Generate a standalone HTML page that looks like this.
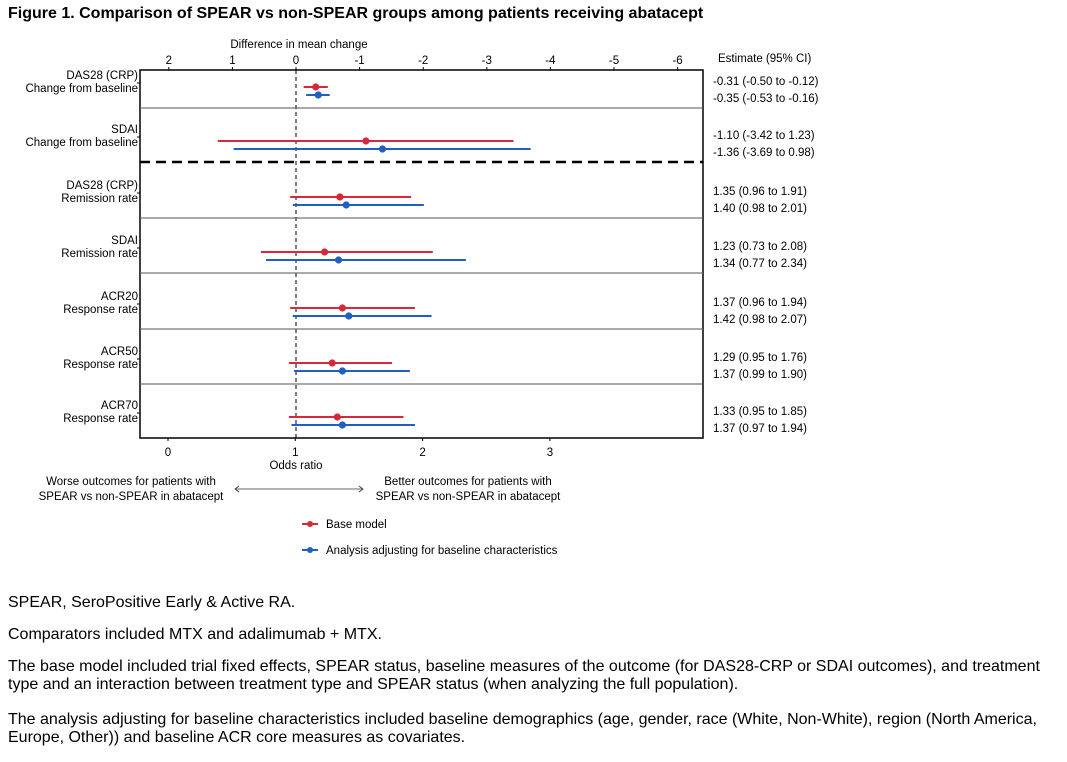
<!DOCTYPE html>
<html><head><meta charset="utf-8"><style>
body{margin:0;background:#fff;width:1067px;height:762px;overflow:hidden;font-family:"Liberation Sans",Arial,sans-serif;}
.t{font-family:"Liberation Sans",Arial,sans-serif;}
.note{position:absolute;left:8px;font-size:16px;color:#000;line-height:18px;width:1052px;}
</style></head><body>
<svg width="1067" height="580" style="position:absolute;left:0;top:0" id="chart">
<text x="8" y="18" font-size="16" font-weight="bold" class="t">Figure 1. Comparison of SPEAR vs non-SPEAR groups among patients receiving abatacept</text>
<text x="299" y="48" font-size="11.5" text-anchor="middle" class="t">Difference in mean change</text>
<text x="718" y="62" font-size="11.5" class="t">Estimate (95% CI)</text>
<text x="296" y="469" font-size="11.5" text-anchor="middle" class="t">Odds ratio</text>
<g font-size="11.5" class="t" text-anchor="middle">
<text x="131" y="485">Worse outcomes for patients with</text>
<text x="131" y="500">SPEAR vs non-SPEAR in abatacept</text>
<text x="468" y="485">Better outcomes for patients with</text>
<text x="468" y="500">SPEAR vs non-SPEAR in abatacept</text>
</g>
<g stroke="#333" stroke-width="0.8" fill="none">
<line x1="235" y1="489" x2="363" y2="489"/><path d="M239,486 L235,489 L239,492 M359,486 L363,489 L359,492"/>
</g>
<g font-size="11.5" class="t">
<g><line x1="302" y1="524" x2="318" y2="524" stroke="#d62839" stroke-width="2"/><circle cx="310" cy="524" r="3" fill="#d62839"/><text x="326" y="528">Base model</text></g>
<g><line x1="302" y1="550" x2="318" y2="550" stroke="#1f5fbf" stroke-width="2"/><circle cx="310" cy="550" r="3" fill="#1f5fbf"/><text x="326" y="554">Analysis adjusting for baseline characteristics</text></g>
</g>
<g id="plot"></g>
</svg>
<div class="note" style="top:594px">SPEAR, SeroPositive Early &amp; Active RA.</div>
<div class="note" style="top:626px">Comparators included MTX and adalimumab + MTX.</div>
<div class="note" style="top:658px">The base model included trial fixed effects, SPEAR status, baseline measures of the outcome (for DAS28-CRP or SDAI outcomes), and treatment type and an interaction between treatment type and SPEAR status (when analyzing the full population).</div>
<div class="note" style="top:711px">The analysis adjusting for baseline characteristics included baseline demographics (age, gender, race (White, Non-White), region (North America, Europe, Other)) and baseline ACR core measures as covariates.</div>
<script>
const rowLabels1 = ["DAS28 (CRP)","SDAI","DAS28 (CRP)","SDAI","ACR20","ACR50","ACR70"];
const rowLabels2 = ["Change from baseline","Change from baseline","Remission rate","Remission rate","Response rate","Response rate","Response rate"];
const rowType = ["diff","diff","or","or","or","or","or"];
const baseEst = [-0.31,-1.10,1.35,1.23,1.37,1.29,1.33];
const baseLo  = [-0.50,-3.42,0.96,0.73,0.96,0.95,0.95];
const baseHi  = [-0.12,1.23,1.91,2.08,1.94,1.76,1.85];
const adjEst  = [-0.35,-1.36,1.40,1.34,1.42,1.37,1.37];
const adjLo   = [-0.53,-3.69,0.98,0.77,0.98,0.99,0.97];
const adjHi   = [-0.16,0.98,2.01,2.34,2.07,1.90,1.94];
const topTicks = [2,1,0,-1,-2,-3,-4,-5,-6];
const bottomTicks = [0,1,2,3];

const NS="http://www.w3.org/2000/svg";
const g=document.getElementById('plot');
function mk(tag,attrs,parent){const e=document.createElementNS(NS,tag);for(const k in attrs)e.setAttribute(k,attrs[k]);(parent||g).appendChild(e);return e;}
const L=140,R=703,T=70,B=438;
const bounds=[70,108,162,218,273,329,384,438];
const xDiff=v=>296-v*63.6;
const xOR=v=>168+v*127.3;
const fmt=v=>v.toFixed(2);

const box=mk('rect',{x:L,y:T,width:R-L,height:B-T,fill:'none',stroke:'#000','stroke-width':1.5});


const ref=mk('line',{x1:296,y1:T,x2:296,y2:B,stroke:'#000','stroke-dasharray':'4,3','stroke-width':1});


for(let i=1;i<7;i++){
  const y=bounds[i];
  const ln=mk('line',{x1:L,y1:y,x2:R,y2:y,stroke:i==2?'#000':'#555','stroke-width':i==2?2.5:1,'stroke-dasharray':i==2?'10,6':'none'});
  
  
}
topTicks.forEach(v=>{
  const x=xDiff(v);
  mk('line',{x1:x,y1:T-3,x2:x,y2:T,stroke:'#000'});
  const t=mk('text',{x:x,y:T-6,'font-size':11.5,'text-anchor':'middle',class:'t'});t.textContent=String(v);
  
  
});
bottomTicks.forEach(v=>{
  const x=xOR(v);
  mk('line',{x1:x,y1:B,x2:x,y2:B+3,stroke:'#000'});
  const t=mk('text',{x:x,y:B+18,'font-size':11.5,'text-anchor':'middle',class:'t'});t.textContent=v;
  
  
});
for(let i=0;i<7;i++){
  const bot=bounds[i+1];
  const ry=bot-21, by=bot-13;
  const sx=rowType[i]=='diff'?xDiff:xOR;
  const l1=mk('text',{x:L-2,y:ry-8,'font-size':11.5,'text-anchor':'end',class:'t'});l1.textContent=rowLabels1[i];
  
  
  const l2=mk('text',{x:L-2,y:ry+5,'font-size':11.5,'text-anchor':'end',class:'t'});l2.textContent=rowLabels2[i];
  
  
  mk('line',{x1:L-3,y1:ry-4,x2:L,y2:ry-4,stroke:'#000'});
  const series=[[baseEst,baseLo,baseHi,'#d62839',ry,'base',ry-6],[adjEst,adjLo,adjHi,'#1f5fbf',by,'adjusted',by+3]];
  series.forEach(s=>{
    const y=s[4];
    const cg=mk('g',{});
    
    
    mk('line',{x1:sx(s[1][i]),y1:y,x2:sx(s[2][i]),y2:y,stroke:s[3],'stroke-width':2},cg);
    mk('circle',{cx:sx(s[0][i]),cy:y,r:3.6,fill:s[3]},cg);
    const et=mk('text',{x:713,y:s[6]+4,'font-size':11.5,class:'t'});
    et.textContent=fmt(s[0][i])+' ('+fmt(s[1][i])+' to '+fmt(s[2][i])+')';
    
    
  });
}
</script>
</body></html>
